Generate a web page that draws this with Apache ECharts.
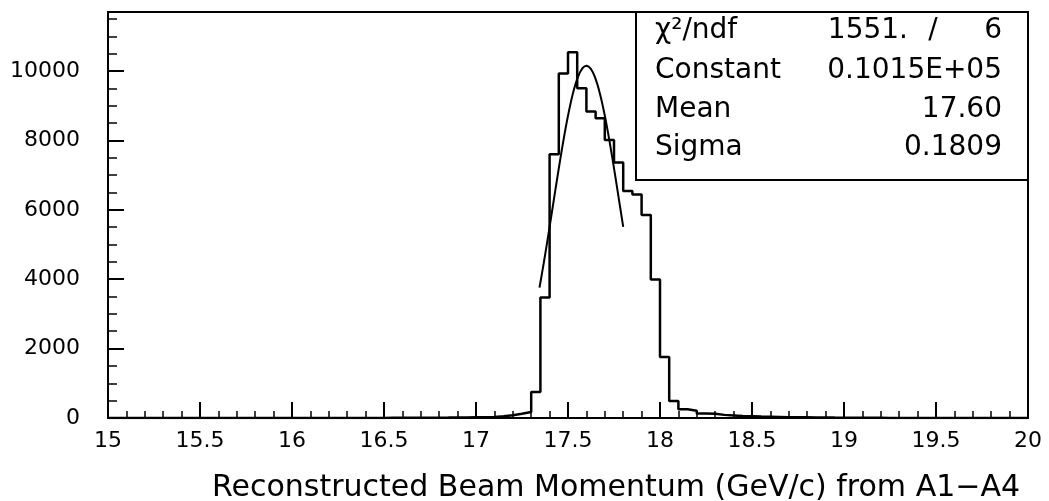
<!DOCTYPE html>
<html>
<head>
<meta charset="utf-8">
<title>Reconstructed Beam Momentum</title>
<script src="https://cdn.jsdelivr.net/npm/echarts@6/dist/echarts.min.js"></script>
<style>
  html, body { margin: 0; padding: 0; background: #fff; }
  #chart { width: 1049px; height: 501px; }
</style>
</head>
<body>
<div id="chart"></div>
<script>
// Histogram binning (GeV/c)
const histLow = 15.0;
const binWidth = 0.05;

// Entries per 0.05 GeV/c bin, 15.00 -> 20.00 (100 bins)
const counts = [
  0, 0, 0, 0, 0, 0, 0, 0, 0, 0,             // 15.00 - 15.45
  0, 0, 0, 0, 0, 0, 0, 0, 0, 0,             // 15.50 - 15.95
  0, 0, 0, 0, 0, 0, 0, 0, 0, 0,             // 16.00 - 16.45
  5, 5, 8, 8, 10, 10, 12, 15, 15, 20,       // 16.50 - 16.95
  25, 30, 50, 80, 120, 170, 750, 3470, 7600, 9930,      // 17.00 - 17.45
  10540, 9500, 8830, 8640, 8010, 7360, 6540, 6440, 5850, 3990, // 17.50 - 17.95
  1760, 490, 250, 210, 130, 120, 90, 75, 60, 50,        // 18.00 - 18.45
  40, 35, 30, 25, 22, 20, 18, 15, 12, 10,   // 18.50 - 18.95
  8, 6, 5, 4, 3, 2, 2, 1, 1, 0,             // 19.00 - 19.45
  0, 0, 0, 0, 0, 0, 0, 0, 0, 0              // 19.50 - 19.95
];

// Gaussian fit results
const fitConstant = 10150;   // 0.1015E+05
const fitMean = 17.60;
const fitSigma = 0.1809;
const fitRange = [17.345, 17.80];

// Stats box rows
const statLabels = ['\u03c7\u00b2/ndf', 'Constant', 'Mean', 'Sigma'];
const statValues = ['1551.', '0.1015E+05', '17.60', '0.1809'];
const ndf = '6';

// Axis texts
const xTitle = 'Reconstructed Beam Momentum (GeV/c) from A1\u2212A4';
const xMin = 15, xMax = 20, xStep = 0.5;
const yMax = 11700, yMajor = 2000, yMinor = 500;

// Step outline: each bin's count held from its low edge to the next edge
const histPoints = counts.map((c, i) => [+(histLow + i * binWidth).toFixed(2), c]);
histPoints.push([+(histLow + counts.length * binWidth).toFixed(2), counts[counts.length - 1]]);

// Fitted Gaussian over the fit range
const fitPoints = [];
const nFit = 80;
for (let i = 0; i <= nFit; i++) {
  const x = fitRange[0] + (fitRange[1] - fitRange[0]) * i / nFit;
  const z = (x - fitMean) / fitSigma;
  fitPoints.push([x, fitConstant * Math.exp(-0.5 * z * z)]);
}

const FONT = '"DejaVu Sans", "Liberation Sans", sans-serif';
const black = '#000';

const chart = echarts.init(document.getElementById('chart'), null, { renderer: 'canvas' });

// Stats box graphic
const boxX = 636, boxY = 12, boxW = 392, boxH = 168;
const rowY = [31, 71, 110, 148];
const statFont = '28px ' + FONT;
const statGraphics = [{
  type: 'rect',
  z: 100,
  shape: { x: boxX, y: boxY, width: boxW, height: boxH },
  style: { fill: '#fff', stroke: black, lineWidth: 2 }
}];
statLabels.forEach((lab, i) => {
  statGraphics.push({
    type: 'text', z: 101,
    style: { text: lab, x: 655, y: rowY[i], fill: black,
             font: statFont, textAlign: 'left', textVerticalAlign: 'middle' }
  });
});
statValues.forEach((val, i) => {
  statGraphics.push({
    type: 'text', z: 101,
    style: { text: val, x: i === 0 ? 908 : 1002, y: rowY[i], fill: black,
             font: statFont, textAlign: 'right', textVerticalAlign: 'middle' }
  });
});
statGraphics.push({
  type: 'text', z: 101,
  style: { text: '/', x: 933, y: rowY[0], fill: black,
           font: statFont, textAlign: 'center', textVerticalAlign: 'middle' }
});
statGraphics.push({
  type: 'text', z: 101,
  style: { text: ndf, x: 1002, y: rowY[0], fill: black,
           font: statFont, textAlign: 'right', textVerticalAlign: 'middle' }
});

const option = {
  backgroundColor: '#fff',
  animation: false,
  grid: {
    left: 108, right: 21, top: 12, bottom: 83,
    outerBoundsMode: 'none',
    containLabel: false,
    show: true, borderColor: black, borderWidth: 2, backgroundColor: 'transparent'
  },
  xAxis: {
    type: 'value',
    min: xMin, max: xMax, interval: xStep,
    name: xTitle,
    nameLocation: 'middle',
    nameGap: 55,
    nameTextStyle: { color: black, fontSize: 30, fontFamily: FONT, padding: [0, 0, 0, 96] },
    axisLine: { show: true, lineStyle: { color: black, width: 2 } },
    axisTick: { show: true, inside: true, length: 16, lineStyle: { color: black, width: 2 } },
    minorTick: { show: true, splitNumber: 5, length: 7, lineStyle: { color: black, width: 1.5 } },
    splitLine: { show: false },
    axisLabel: { color: black, fontSize: 22, fontFamily: FONT, margin: 12,
                 formatter: v => String(v) }
  },
  yAxis: [{
    // minor ticks every 500
    type: 'value',
    position: 'left',
    min: 0, max: yMax, interval: yMinor,
    axisLine: { show: true, lineStyle: { color: black, width: 2 } },
    axisTick: { show: true, inside: true, length: 9, lineStyle: { color: black, width: 1.5 } },
    axisLabel: { show: false },
    splitLine: { show: false }
  }, {
    // major ticks and labels every 2000
    type: 'value',
    position: 'left',
    offset: 0,
    min: 0, max: yMax, interval: yMajor,
    axisLine: { show: false },
    axisTick: { show: true, inside: true, length: 16, lineStyle: { color: black, width: 2 } },
    axisLabel: { color: black, fontSize: 22, fontFamily: FONT, margin: 28,
                 showMaxLabel: false, formatter: v => String(v) },
    splitLine: { show: false }
  }],
  series: [{
    type: 'line',
    name: 'histogram',
    step: 'end',
    data: histPoints,
    showSymbol: false,
    symbol: 'none',
    lineStyle: { color: black, width: 2.5 },
    z: 5
  }, {
    type: 'line',
    name: 'gaus fit',
    data: fitPoints,
    showSymbol: false,
    symbol: 'none',
    smooth: false,
    lineStyle: { color: black, width: 2 },
    z: 6
  }],
  graphic: statGraphics
};

chart.setOption(option);
</script>
</body>
</html>
